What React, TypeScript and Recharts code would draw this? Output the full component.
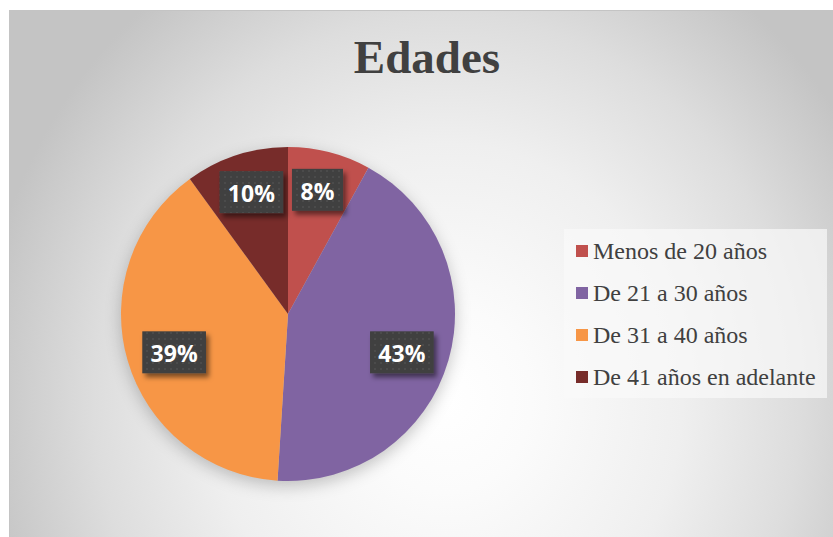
import { PieChart, Pie, Cell, Legend } from "recharts";

const categories = [
  "Menos de 20 años",
  "De 21 a 30 años",
  "De 31 a 40 años",
  "De 41 años en adelante",
];
const shares = [8, 43, 39, 10];
const colors = ["#c0504d", "#8064a2", "#f79646", "#772c2a"];

const data = categories.map((name, i) => ({ name, value: shares[i] }));

const RAD = Math.PI / 180;

// dark dotted box with white percentage, like Excel's data callouts
function renderLabel(props: any) {
  const { cx, cy, midAngle, outerRadius, percent } = props;
  const x = cx + outerRadius * 0.71 * Math.cos(-midAngle * RAD);
  const y = cy + outerRadius * 0.78 * Math.sin(-midAngle * RAD) + 2;
  const pct = Math.round(percent * 100);
  const w = String(pct).length * 12.6 + 19.5 + 19;
  const h = 42;
  return (
    <g>
      <rect
        x={x - w / 2}
        y={y - h / 2}
        width={w}
        height={h}
        fill="url(#dots)"
        filter="url(#boxShadow)"
      />
      <text
        x={x}
        y={y + 1}
        fill="#ffffff"
        textAnchor="middle"
        dominantBaseline="central"
        fontFamily="'Open Sans', sans-serif"
        fontWeight={700}
        fontSize={23}
      >
        {pct}%
      </text>
    </g>
  );
}

function LegendBox() {
  return (
    <div
      style={{
        width: 263,
        height: 169,
        background: "rgba(250,250,250,0.7)",
        boxSizing: "border-box",
        paddingTop: 1,
        fontFamily: "'Liberation Serif', 'Times New Roman', serif",
        fontSize: 24,
        color: "#404040",
      }}
    >
      {categories.map((c, i) => (
        <div
          key={c}
          style={{ height: 42, display: "flex", alignItems: "center", paddingLeft: 12 }}
        >
          <span
            style={{ width: 12, height: 12, background: colors[i], marginRight: 5, flexShrink: 0 }}
          />
          <span style={{ whiteSpace: "nowrap" }}>{c}</span>
        </div>
      ))}
    </div>
  );
}

export default function App() {
  return (
    <div
      style={{
        position: "absolute",
        left: 0,
        top: 0,
        width: 833,
        height: 537,
        background: "#ffffff",
        overflow: "hidden",
      }}
    >
      <style>{`.recharts-pie { filter: drop-shadow(0px 5px 8px rgba(0,0,0,0.22)); }`}</style>
      <svg width={0} height={0} style={{ position: "absolute" }}>
        <defs>
          <pattern id="dots" width="6" height="6" patternUnits="userSpaceOnUse">
            <rect width="6" height="6" fill="#404040" />
            <circle cx="3" cy="3" r="1" fill="#4e4e4e" />
          </pattern>
          <filter id="boxShadow" x="-30%" y="-30%" width="160%" height="170%">
            <feDropShadow dx="3" dy="4" stdDeviation="2.5" floodColor="#000" floodOpacity="0.5" />
          </filter>
        </defs>
      </svg>
      <div
        style={{
          position: "absolute",
          left: 9,
          top: 10,
          width: 840,
          height: 540,
          border: "1px solid #c4c4c4",
          background:
            "radial-gradient(ellipse 56% 95% at 52% 72%, #ffffff 0%, #fbfbfb 18%, #efefef 50%, #dddddd 75%, #c4c4c4 100%)",
        }}
      />
      <div
        style={{
          position: "absolute",
          left: 227,
          top: 34,
          width: 400,
          textAlign: "center",
          fontFamily: "'Liberation Serif', 'Times New Roman', serif",
          fontWeight: 700,
          fontSize: 47,
          lineHeight: 1,
          color: "#404040",
        }}
      >
        Edades
      </div>
      <div style={{ position: "absolute", left: 0, top: 0 }}>
        <PieChart width={833} height={537} margin={{ top: 0, right: 0, bottom: 0, left: 0 }}>
          <Pie
            data={data}
            dataKey="value"
            nameKey="name"
            cx={288}
            cy={314}
            outerRadius={167}
            startAngle={90}
            endAngle={-270}
            stroke="none"
            label={renderLabel}
            labelLine={false}
            isAnimationActive={false}
          >
            {data.map((d, i) => (
              <Cell key={d.name} fill={colors[i]} />
            ))}
          </Pie>
          <Legend
            layout="vertical"
            wrapperStyle={{ left: 564, top: 229, width: 263 }}
            content={() => <LegendBox />}
          />
        </PieChart>
      </div>
    </div>
  );
}
